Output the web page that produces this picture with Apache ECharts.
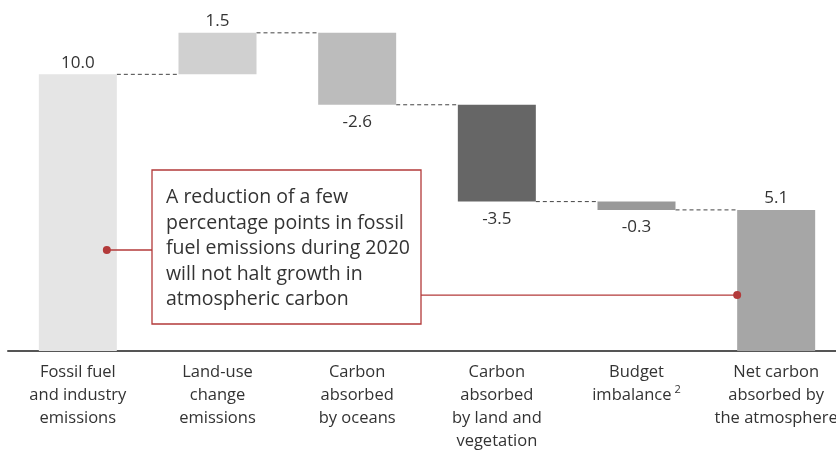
<!DOCTYPE html>
<html>
<head>
<meta charset="utf-8">
<script src="https://cdn.jsdelivr.net/npm/echarts@6/dist/echarts.min.js"></script>
<style>
  html, body { margin: 0; padding: 0; background: #fff; }
  #main { width: 836px; height: 450px; }
</style>
</head>
<body>
<div id="main"></div>
<script>
// data
var categories = [
  'Fossil fuel\nand industry\nemissions',
  'Land-use\nchange\nemissions',
  'Carbon\nabsorbed\nby oceans',
  'Carbon\nabsorbed\nby land and\nvegetation',
  'Budget\nimbalance{sup|2}',
  'Net carbon\nabsorbed by\nthe atmosphere'
];
var changes = [10.0, 1.5, -2.6, -3.5, -0.3, 5.1];
var isTotal = [true, false, false, false, false, true];
var barColors = ['#e5e5e5', '#d0d0d0', '#bcbcbc', '#666666', '#999999', '#a6a6a6'];
var noteText = 'A reduction of a few\npercentage points in fossil\nfuel emissions during 2020\nwill not halt growth in\natmospheric carbon';

// waterfall pieces
var base = [], height = [], levels = [];
var run = 0;
changes.forEach(function (v, i) {
  if (isTotal[i]) {
    base.push(0); height.push(v); run = v;
  } else if (v >= 0) {
    base.push(run); height.push(v); run += v;
  } else {
    run += v; base.push(run); height.push(-v);
  }
  if (i < changes.length - 1) levels.push([i, +run.toFixed(2)]);
});

var chartDom = document.getElementById('main');
var myChart = echarts.init(chartDom);
var font = '"Open Sans", "Noto Sans", sans-serif';
var halfBar = 39;

var option = {
  animation: false,
  textStyle: { fontFamily: font },
  grid: { left: 8, top: 19, width: 838, bottom: 99, outerBoundsMode: 'none', containLabel: false },
  xAxis: {
    type: 'category',
    data: categories,
    axisTick: { show: false },
    axisLine: { lineStyle: { color: '#555', width: 2 } },
    axisLabel: {
      interval: 0,
      color: '#333',
      fontSize: 16.5,
      lineHeight: 23,
      margin: 10,
      fontFamily: font,
      rich: {
        sup: { fontSize: 11, verticalAlign: 'top', padding: [0, 0, 8, 3], color: '#333', fontFamily: font }
      }
    }
  },
  yAxis: {
    type: 'value',
    min: 0,
    max: 12,
    show: false,
    splitLine: { show: false }
  },
  series: [
    {
      type: 'bar',
      stack: 'w',
      barWidth: 78,
      silent: true,
      itemStyle: { color: 'transparent' },
      data: base
    },
    {
      type: 'bar',
      stack: 'w',
      barWidth: 78,
      data: height.map(function (h, i) {
        var up = changes[i] >= 0;
        return {
          value: h,
          itemStyle: { color: barColors[i] },
          label: {
            show: true,
            position: up ? 'top' : 'bottom',
            distance: up ? 3 : 9,
            formatter: changes[i].toFixed(1),
            color: '#333',
            fontSize: 17,
            fontFamily: font
          }
        };
      })
    },
    {
      type: 'custom',
      silent: true,
      data: levels,
      renderItem: function (params, api) {
        var p = api.coord([api.value(0), api.value(1)]);
        var w = api.size([1, 0])[0];
        return {
          type: 'line',
          shape: { x1: p[0] + halfBar, y1: p[1], x2: p[0] + w - halfBar, y2: p[1] },
          style: { stroke: '#444', lineWidth: 1, lineDash: [4, 3] }
        };
      }
    }
  ]
};
option && myChart.setOption(option);

// annotation box with pointers to first and last bars
var red = '#b33a3a';
var box = { x: 152, y: 170, w: 269, h: 154 };
var leftPt = myChart.convertToPixel({ gridIndex: 0 }, [0, 3.65]);
var rightPt = myChart.convertToPixel({ gridIndex: 0 }, [5, 2.02]);
leftPt[0] += 29;
rightPt[0] -= halfBar;

myChart.setOption({
  graphic: [
    {
      type: 'rect',
      shape: { x: box.x, y: box.y, width: box.w, height: box.h },
      style: { fill: '#fff', stroke: red, lineWidth: 1.3 },
      z: 10
    },
    {
      type: 'text',
      x: box.x + 14,
      y: box.y + 15,
      style: {
        text: noteText,
        font: '19.5px ' + font,
        lineHeight: 25.5,
        fill: '#333'
      },
      z: 11
    },
    {
      type: 'line',
      shape: { x1: leftPt[0], y1: leftPt[1], x2: box.x, y2: leftPt[1] },
      style: { stroke: red, lineWidth: 1.3 },
      z: 10
    },
    {
      type: 'circle',
      shape: { cx: leftPt[0], cy: leftPt[1], r: 4 },
      style: { fill: red },
      z: 10
    },
    {
      type: 'line',
      shape: { x1: box.x + box.w, y1: rightPt[1], x2: rightPt[0], y2: rightPt[1] },
      style: { stroke: red, lineWidth: 1.3 },
      z: 10
    },
    {
      type: 'circle',
      shape: { cx: rightPt[0], cy: rightPt[1], r: 4 },
      style: { fill: red },
      z: 10
    }
  ]
});
</script>
</body>
</html>
